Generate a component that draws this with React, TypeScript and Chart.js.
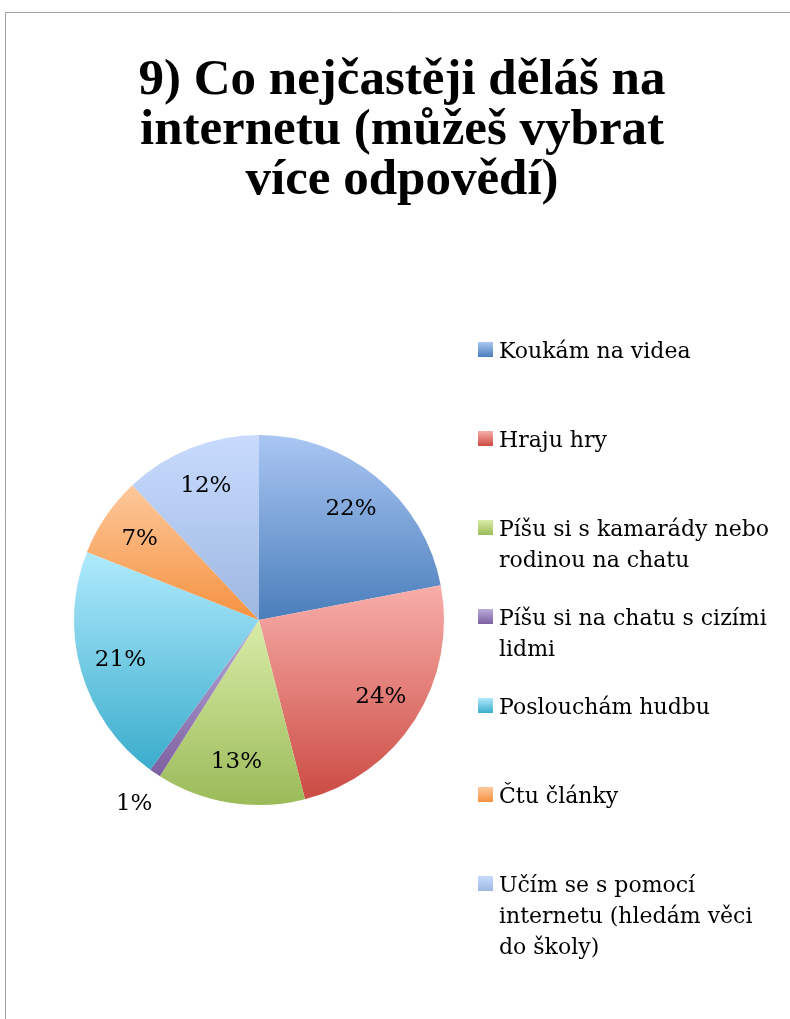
import React, { useEffect, useRef } from "react";
import { Chart, registerables } from "chart.js";

Chart.register(...registerables);

const TITLE_LINES = ["9) Co nejčastěji děláš na", "internetu (můžeš vybrat", "více odpovědí)"];
const CATEGORIES = [
  "Koukám na videa",
  "Hraju hry",
  "Píšu si s kamarády nebo rodinou na chatu",
  "Píšu si na chatu s cizími lidmi",
  "Poslouchám hudbu",
  "Čtu články",
  "Učím se s pomocí internetu (hledám věci do školy)",
];
const VALUES = [22, 24, 13, 1, 21, 7, 12];
const TOP_COLORS = ["#aac6f3", "#f8aeaa", "#d9eca8", "#b8abd8", "#b0eafd", "#fdc89c", "#c8dbfe"];
const BOTTOM_COLORS = ["#4a7ebb", "#cb4b43", "#9bbb59", "#7d60a0", "#3aadcc", "#f69240", "#9db7e0"];

const W = 790;
const H = 1019;
const LABEL_FONT = "23px 'DejaVu Serif'";
const LEGEND_FONT = "22px 'DejaVu Serif'";
const TITLE_FONT = "bold 51px 'Liberation Serif'";

function sliceYRange(chart: any, index: number) {
  const ca = chart.chartArea;
  const cx = (ca.left + ca.right) / 2;
  const cy = (ca.top + ca.bottom) / 2;
  const r = Math.min(ca.right - ca.left, ca.bottom - ca.top) / 2;
  const total = VALUES.reduce((a, b) => a + b, 0);
  let cum = 0;
  for (let i = 0; i < index; i++) cum += VALUES[i];
  const start = -Math.PI / 2 + (2 * Math.PI * cum) / total;
  const end = start + (2 * Math.PI * VALUES[index]) / total;
  let minY = cy;
  let maxY = cy;
  for (let k = 0; k <= 60; k++) {
    const a = start + ((end - start) * k) / 60;
    const y = cy + r * Math.sin(a);
    minY = Math.min(minY, y);
    maxY = Math.max(maxY, y);
  }
  return { minY, maxY };
}

function wrapText(ctx: CanvasRenderingContext2D, text: string, maxW: number) {
  const words = text.split(" ");
  const lines: string[] = [];
  let cur = "";
  for (const w of words) {
    const t = cur ? cur + " " + w : w;
    if (ctx.measureText(t).width > maxW && cur) {
      lines.push(cur);
      cur = w;
    } else cur = t;
  }
  if (cur) lines.push(cur);
  return lines;
}

const framePlugin = {
  id: "frame",
  beforeDraw(chart: any) {
    const ctx = chart.ctx;
    ctx.save();
    ctx.fillStyle = "#ffffff";
    ctx.fillRect(0, 0, W, H);
    ctx.strokeStyle = "#a0a0a0";
    ctx.lineWidth = 1;
    ctx.beginPath();
    ctx.moveTo(5.5, H);
    ctx.lineTo(5.5, 12.5);
    ctx.lineTo(W, 12.5);
    ctx.stroke();
    // title
    ctx.fillStyle = "#000000";
    ctx.font = TITLE_FONT;
    ctx.textAlign = "center";
    ctx.textBaseline = "alphabetic";
    TITLE_LINES.forEach((line, i) => {
      ctx.fillText(line, 402, 94 + i * 50);
    });
    ctx.restore();
  },
};

const labelsPlugin = {
  id: "sliceLabels",
  afterDatasetsDraw(chart: any) {
    const ctx = chart.ctx;
    const meta = chart.getDatasetMeta(0);
    const total = VALUES.reduce((a, b) => a + b, 0);
    ctx.save();
    ctx.font = LABEL_FONT;
    ctx.fillStyle = "#000000";
    ctx.textAlign = "center";
    ctx.textBaseline = "middle";
    meta.data.forEach((arc: any, i: number) => {
      const mid = (arc.startAngle + arc.endAngle) / 2;
      const share = VALUES[i] / total;
      const ratio = share < 0.03 ? 1.2 : 0.78;
      const x = arc.x + Math.cos(mid) * arc.outerRadius * ratio;
      const y = arc.y + Math.sin(mid) * arc.outerRadius * ratio;
      ctx.fillText(Math.round(share * 100) + "%", x, y);
    });
    ctx.restore();
  },
};

const legendPlugin = {
  id: "sideLegend",
  afterDraw(chart: any) {
    const ctx = chart.ctx;
    ctx.save();
    ctx.font = LEGEND_FONT;
    ctx.textBaseline = "alphabetic";
    ctx.textAlign = "left";
    CATEGORIES.forEach((label, i) => {
      const base = 358 + i * 89;
      const g = ctx.createLinearGradient(0, base - 16, 0, base - 1);
      g.addColorStop(0, TOP_COLORS[i]);
      g.addColorStop(1, BOTTOM_COLORS[i]);
      ctx.fillStyle = g;
      ctx.fillRect(478, base - 16, 15, 15);
      ctx.fillStyle = "#000000";
      const lines = wrapText(ctx, label, 282);
      lines.forEach((ln, j) => ctx.fillText(ln, 499, base + j * 31));
    });
    ctx.restore();
  },
};

export default function App() {
  const ref = useRef<HTMLCanvasElement | null>(null);
  useEffect(() => {
    if (!ref.current) return;
    const chart = new Chart(ref.current, {
      type: "pie",
      data: {
        labels: CATEGORIES,
        datasets: [
          {
            data: VALUES,
            borderWidth: 0,
            backgroundColor: (c: any) => {
              const chart = c.chart;
              const i = c.dataIndex;
              if (!chart.chartArea || i === undefined) return BOTTOM_COLORS[i ?? 0];
              const { minY, maxY } = sliceYRange(chart, i);
              const g = chart.ctx.createLinearGradient(0, minY, 0, maxY);
              g.addColorStop(0, TOP_COLORS[i]);
              g.addColorStop(1, BOTTOM_COLORS[i]);
              return g;
            },
          },
        ],
      },
      options: {
        responsive: false,
        animation: false,
        layout: { padding: { left: 74, right: 346, top: 435, bottom: 214 } },
        plugins: {
          legend: { display: false },
          title: { display: false },
          tooltip: { enabled: false },
        },
      },
      plugins: [framePlugin, labelsPlugin, legendPlugin],
    });
    return () => chart.destroy();
  }, []);
  return (
    <div style={{ position: "fixed", left: 0, top: 0, width: W, height: H, background: "#fff" }}>
      <canvas ref={ref} width={W} height={H} style={{ display: "block" }} />
    </div>
  );
}
